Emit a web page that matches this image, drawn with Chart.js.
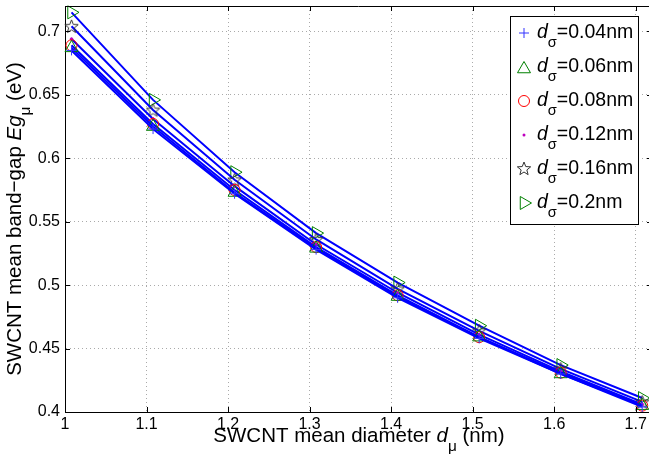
<!DOCTYPE html>
<html>
<head>
<meta charset="utf-8">
<script src="https://cdn.jsdelivr.net/npm/chart.js@4.4.1/dist/chart.umd.min.js"></script>
<style>
  html, body { margin: 0; padding: 0; background: #fff; overflow: hidden; }
  #wrap { width: 649px; height: 457px; overflow: hidden; }
</style>
</head>
<body>
<div id="wrap"><canvas id="c" width="652" height="457"></canvas></div>
<script>
// mean diameter (nm)
const diameters = [1.008, 1.108, 1.208, 1.308, 1.408, 1.508, 1.608, 1.708];

// band-gap (eV), one array per d_sigma
const sigmaLabels = ["0.04", "0.06", "0.08", "0.12", "0.16", "0.2"];
const gap004 = [0.685, 0.623, 0.572, 0.528, 0.490, 0.458, 0.430, 0.404];
const gap006 = [0.687, 0.625, 0.573, 0.529, 0.491, 0.459, 0.430, 0.405];
const gap008 = [0.689, 0.627, 0.575, 0.530, 0.492, 0.459, 0.431, 0.405];
const gap012 = [0.694, 0.631, 0.578, 0.532, 0.494, 0.461, 0.432, 0.406];
const gap016 = [0.704, 0.638, 0.583, 0.536, 0.497, 0.464, 0.434, 0.408];
const gap020 = [0.715, 0.646, 0.589, 0.541, 0.502, 0.468, 0.437, 0.411];

const xTicks = [1, 1.1, 1.2, 1.3, 1.4, 1.5, 1.6, 1.7];
const yTicks = [0.4, 0.45, 0.5, 0.55, 0.6, 0.65, 0.7];

const FONT = '"Liberation Sans", Arial, Helvetica, sans-serif';

// star marker (chart.js has no 5 point star)
function starImage(color) {
  const cv = document.createElement('canvas');
  cv.width = 15; cv.height = 15;
  const g = cv.getContext('2d');
  drawStar(g, 7.5, 8, 7, 3, color);
  return cv;
}
function drawStar(g, cx, cy, R, r, color) {
  g.beginPath();
  for (let i = 0; i < 10; i++) {
    const a = -Math.PI / 2 + i * Math.PI / 5;
    const rr = i % 2 ? r : R;
    const px = cx + rr * Math.cos(a), py = cy + rr * Math.sin(a);
    if (i === 0) g.moveTo(px, py); else g.lineTo(px, py);
  }
  g.closePath();
  g.strokeStyle = color; g.lineWidth = 1;
  g.stroke();
}

const markers = [
  { style: 'cross',    color: '#3333ff', radius: 5,   rot: 0 },
  { style: 'triangle', color: '#008000', radius: 7.5, rot: 0 },
  { style: 'circle',   color: '#ff0000', radius: 5.5, rot: 0 },
  { style: 'circle',   color: '#bf00bf', radius: 1.3, rot: 0, fill: true },
  { style: starImage('#333333'), color: '#333333', radius: 7, rot: 0, star: true },
  { style: 'triangle', color: '#008000', radius: 7.5, rot: 90 }
];

const allGaps = [gap004, gap006, gap008, gap012, gap016, gap020];

const datasets = allGaps.map((g, i) => ({
  label: 'd_sigma=' + sigmaLabels[i] + 'nm',
  data: diameters.map((d, j) => ({ x: d, y: g[j] })),
  showLine: true,
  borderColor: '#0000ff',
  borderWidth: 2,
  pointStyle: markers[i].style,
  pointRadius: markers[i].radius,
  pointRotation: markers[i].rot,
  pointBorderColor: markers[i].color,
  pointBackgroundColor: markers[i].fill ? markers[i].color : 'rgba(0,0,0,0)',
  pointBorderWidth: 1,
  clip: false
}));

// text with italic / subscript parts
function richWidth(ctx, parts, size) {
  let w = 0;
  parts.forEach(p => {
    const s = p.sub ? size * 0.75 : size;
    ctx.font = (p.it ? 'italic ' : '') + s + 'px ' + FONT;
    w += ctx.measureText(p.t).width;
  });
  return w;
}
function drawRich(ctx, parts, x, y, size) {
  parts.forEach(p => {
    const s = p.sub ? size * 0.75 : size;
    ctx.font = (p.it ? 'italic ' : '') + s + 'px ' + FONT;
    ctx.fillText(p.t, x, p.sub ? y + size * 0.45 : y);
    x += ctx.measureText(p.t).width;
  });
}

function legendMarker(ctx, i, x, y) {
  const m = markers[i];
  ctx.save();
  ctx.strokeStyle = m.color; ctx.fillStyle = m.color; ctx.lineWidth = 1;
  ctx.beginPath();
  if (i === 0) {
    ctx.moveTo(x - 5, y); ctx.lineTo(x + 5, y);
    ctx.moveTo(x, y - 5); ctx.lineTo(x, y + 5); ctx.stroke();
  } else if (i === 1 || i === 5) {
    const r = m.radius;
    for (let k = 0; k < 3; k++) {
      const a = (m.rot - 90 + k * 120) * Math.PI / 180;
      const px = x + r * Math.cos(a), py = y + r * Math.sin(a) + (i === 1 ? 2 : 0);
      if (k === 0) ctx.moveTo(px, py); else ctx.lineTo(px, py);
    }
    ctx.closePath(); ctx.stroke();
  } else if (i === 2) {
    ctx.arc(x, y, m.radius, 0, Math.PI * 2); ctx.stroke();
  } else if (i === 3) {
    ctx.arc(x, y, 1.5, 0, Math.PI * 2); ctx.fill();
  } else {
    drawStar(ctx, x, y, 7, 3, m.color);
  }
  ctx.restore();
}

const framePlugin = {
  id: 'frame',
  afterDraw(chart) {
    const ctx = chart.ctx;
    const a = chart.chartArea;
    const xs = chart.scales.x, ys = chart.scales.y;
    ctx.save();
    ctx.strokeStyle = '#000';
    ctx.lineWidth = 1;
    ctx.beginPath();
    // top and right edge of the box
    ctx.moveTo(a.left, a.top + 0.5); ctx.lineTo(a.right, a.top + 0.5);
    ctx.moveTo(a.right - 0.5, a.top); ctx.lineTo(a.right - 0.5, a.bottom);
    // inward ticks
    xTicks.forEach(v => {
      const px = Math.round(xs.getPixelForValue(v)) + 0.5;
      ctx.moveTo(px, a.bottom); ctx.lineTo(px, a.bottom - 5);
      ctx.moveTo(px, a.top); ctx.lineTo(px, a.top + 5);
    });
    yTicks.forEach(v => {
      const py = Math.round(ys.getPixelForValue(v)) + 0.5;
      ctx.moveTo(a.left, py); ctx.lineTo(a.left + 5, py);
      ctx.moveTo(a.right, py); ctx.lineTo(a.right - 5, py);
    });
    ctx.stroke();

    // legend box
    const lx = 510.5, ly = 16.5, lw = 128, lh = 208;
    ctx.fillStyle = '#fff';
    ctx.fillRect(lx, ly, lw, lh);
    ctx.strokeRect(lx, ly, lw, lh);
    ctx.fillStyle = '#000';
    ctx.textBaseline = 'alphabetic';
    ctx.textAlign = 'left';
    sigmaLabels.forEach((s, i) => {
      const cy = 33 + i * 34;
      legendMarker(ctx, i, 524, cy);
      drawRich(ctx, [{ t: 'd', it: true }, { t: 'σ', sub: true }, { t: '=' + s + 'nm' }], 537, cy + 5, 19.5);
    });

    // axis titles
    const xt = [{ t: 'SWCNT mean diameter ' }, { t: 'd', it: true }, { t: 'μ', sub: true }, { t: ' (nm)' }];
    const xw = richWidth(ctx, xt, 20.5);
    drawRich(ctx, xt, 359 - xw / 2, 442, 20.5);

    const yt = [{ t: 'SWCNT mean band−gap ' }, { t: 'Eg', it: true }, { t: 'μ', sub: true }, { t: ' (eV)' }];
    const yw = richWidth(ctx, yt, 20.5);
    ctx.translate(21, 219);
    ctx.rotate(-Math.PI / 2);
    drawRich(ctx, yt, -yw / 2, 0, 20.5);
    ctx.restore();
  }
};

const fmt = v => String(Number(v.toFixed(2)));

new Chart(document.getElementById('c'), {
  type: 'scatter',
  data: { datasets },
  options: {
    responsive: false,
    animation: false,
    layout: { autoPadding: false, padding: { top: 6, right: 0, left: 0, bottom: 0 } },
    plugins: { legend: { display: false }, tooltip: { enabled: false } },
    scales: {
      x: {
        type: 'linear', min: 1, max: 1.72,
        ticks: { stepSize: 0.1, includeBounds: false, callback: fmt, color: '#000',
                 font: { family: FONT, size: 16 }, padding: 3, maxRotation: 0, autoSkip: false },
        grid: { color: '#aaaaaa', drawTicks: false },
        border: { color: '#000', width: 1, dash: [1, 3] },
        afterFit: s => { s.height = 45; s.paddingLeft = 0; s.paddingRight = 0; }
      },
      y: {
        min: 0.4, max: 0.72,
        ticks: { stepSize: 0.05, includeBounds: false, callback: fmt, color: '#000',
                 font: { family: FONT, size: 16 }, padding: 5, autoSkip: false },
        grid: { color: '#aaaaaa', drawTicks: false },
        border: { color: '#000', width: 1, dash: [1, 3] },
        afterFit: s => { s.width = 65; s.paddingTop = 0; s.paddingBottom = 0; }
      }
    }
  },
  plugins: [framePlugin]
});
</script>
</body>
</html>
